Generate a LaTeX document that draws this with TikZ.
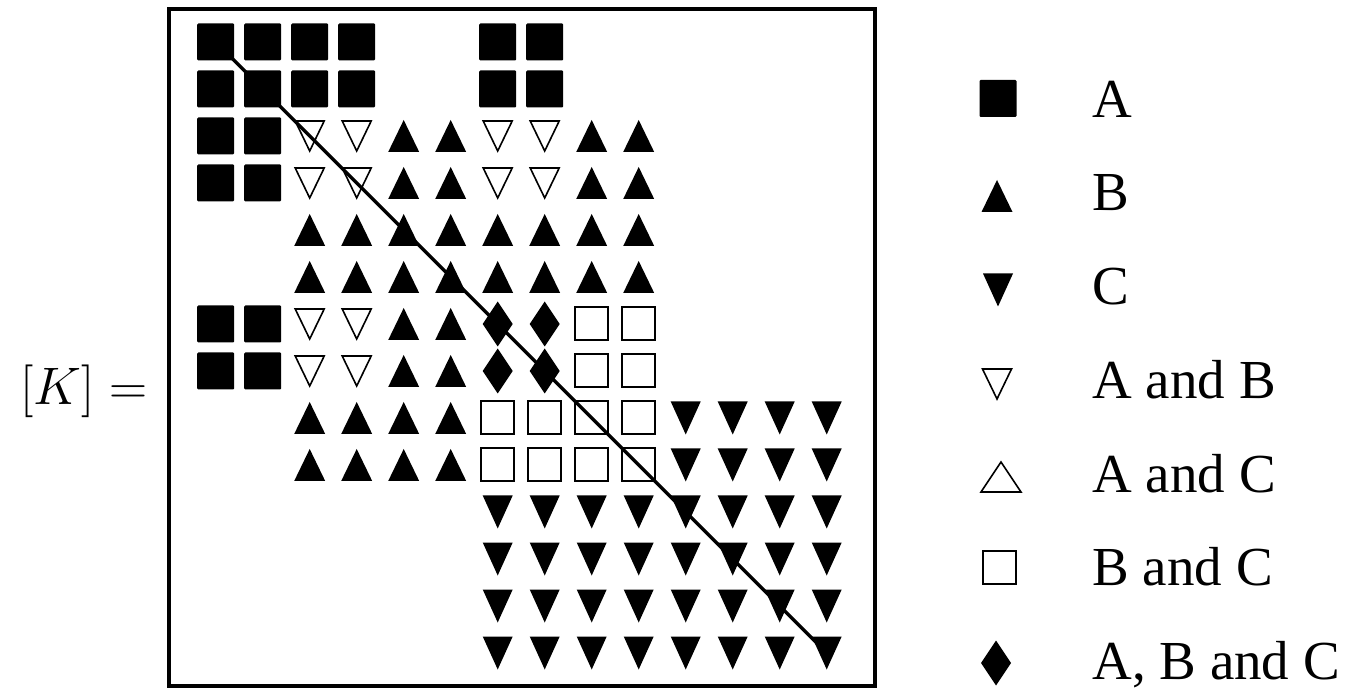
\RequirePackage{fix-cm}
\documentclass[tikz,border=0pt]{standalone}
\usepackage[no-math]{fontspec}
\setmainfont{Liberation Serif}

\begin{document}
\begin{tikzpicture}[x=0.5pt, y=-0.5pt,
  symA/.pic={\fill[rounded corners=0.6pt] (-18.5,-18.5) rectangle (18.5,18.5);},
  symB/.pic={\fill (-15.5,16) -- (15.5,16) -- (0,-16) -- cycle;},
  symC/.pic={\fill (-15,-16.5) -- (15,-16.5) -- (0,16.5) -- cycle;},
  symAB/.pic={\draw[line width=0.8pt] (-14.5,-15) -- (14.5,-15) -- (0,15) -- cycle;},
  symAC/.pic={\draw[line width=0.8pt] (-20,15) -- (20,15) -- (0,-15) -- cycle;},
  symBC/.pic={\draw[line width=1pt] (-16.5,-16.5) rectangle (16.5,16.5);},
  symABC/.pic={\fill (0,-22.5) -- (15,0) -- (0,22.5) -- (-15,0) -- cycle;},
  legtext/.style={anchor=base west, inner sep=0pt, font=\fontsize{27.5}{32}\selectfont}
]
  \useasboundingbox (0,0) rectangle (1347,688);

  % cell centres of the 14x14 pattern
  \foreach \r in {0,...,13}
    \foreach \c in {0,...,13}
      \coordinate (c\r-\c) at (215.7+47*\c, 42+47*\r);

  \node[anchor=base east, inner sep=0pt, font=\fontsize{26.4}{30}\selectfont] (Klabel) at (148,405) {$[K]=$};
  \draw[line width=2pt] (168.5,8.7) rectangle (875,686);

  \foreach \r in {0,1}
    \foreach \c in {0,1,2,3,6,7} \pic at (c\r-\c) {symA};
  \foreach \r in {2,3} {
    \foreach \c in {0,1} \pic at (c\r-\c) {symA};
    \foreach \c in {2,3,6,7} \pic at (c\r-\c) {symAB};
    \foreach \c in {4,5,8,9} \pic at (c\r-\c) {symB};
  }
  \foreach \r in {4,5}
    \foreach \c in {2,...,9} \pic at (c\r-\c) {symB};
  \foreach \r in {6,7} {
    \foreach \c in {0,1} \pic at (c\r-\c) {symA};
    \foreach \c in {2,3} \pic at (c\r-\c) {symAB};
    \foreach \c in {4,5} \pic at (c\r-\c) {symB};
    \foreach \c in {6,7} \pic at (c\r-\c) {symABC};
    \foreach \c in {8,9} \pic at (c\r-\c) {symBC};
  }
  \foreach \r in {8,9} {
    \foreach \c in {2,...,5} \pic at (c\r-\c) {symB};
    \foreach \c in {6,...,9} \pic at (c\r-\c) {symBC};
    \foreach \c in {10,...,13} \pic at (c\r-\c) {symC};
  }
  \foreach \r in {10,...,13}
    \foreach \c in {6,...,13} \pic at (c\r-\c) {symC};

  \draw[line width=1.7pt] (c0-0) -- (c13-13);

  % legend
  \pic at (998,98.5) {symA};
  \node[legtext] (legA) at (1092,118) {A};
  \pic at (997,196) {symB};
  \node[legtext] (legB) at (1092,210.7) {B};
  \pic at (998,290) {symC};
  \node[legtext] (legC) at (1092,305) {C};
  \pic at (997,384) {symAB};
  \node[legtext] (legAB) at (1092,399) {A and B};
  \pic at (1001,477) {symAC};
  \node[legtext] (legAC) at (1092,492.7) {A and C};
  \pic at (999,567) {symBC};
  \node[legtext] (legBC) at (1092,585) {B and C};
  \pic at (996,663) {symABC};
  \node[legtext] (legABC) at (1092,679.3) {A, B and C};
\end{tikzpicture}
\end{document}
